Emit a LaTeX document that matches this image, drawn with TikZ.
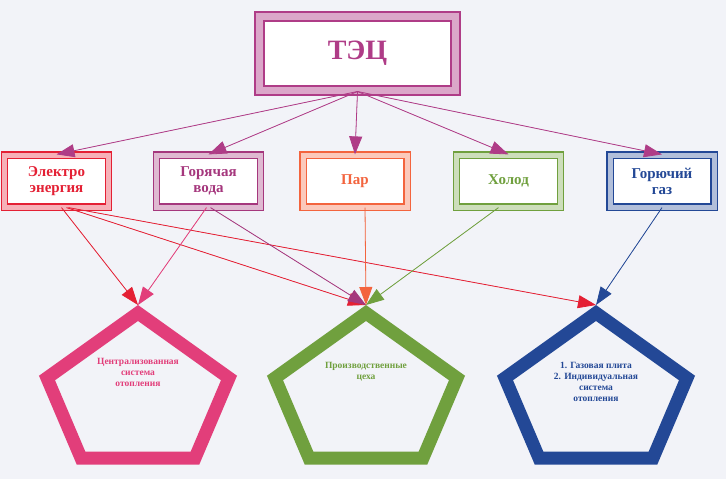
\documentclass[tikz,border=0pt]{standalone}
\usepackage{fontspec}
\setmainfont{Liberation Serif}
\usetikzlibrary{arrows.meta}
\definecolor{tec}{RGB}{175,60,135}
\definecolor{cred}{RGB}{228,32,52}
\definecolor{cpur}{RGB}{165,55,125}
\definecolor{corg}{RGB}{243,100,62}
\definecolor{cgrn}{RGB}{112,160,62}
\definecolor{cblu}{RGB}{35,72,150}
\definecolor{cpnk}{RGB}{226,62,122}
\definecolor{paper}{RGB}{242,243,248}
\tikzset{
  srcbox/.style={draw=#1, text=#1, line width=1.2pt, double=#1!35, double distance=5pt,
    fill=white, minimum width=104pt, minimum height=52pt, align=center,
    font=\bfseries\fontsize{15}{16}\selectfont, inner sep=2pt},
  feed/.style={draw=#1, line width=0.8pt, -{Triangle[length=18pt,width=13pt]}, fill=#1},
  pent/.style={draw=#1, line width=13pt, line join=miter},
  pentext/.style={text=#1, align=center, font=\bfseries\fontsize{9.5}{11}\selectfont}
}
\begin{document}
\begin{tikzpicture}[x=1pt,y=-1pt]
  \fill[paper] (0,0) rectangle (726,479);
  \useasboundingbox (0,0) rectangle (726,479);
  % top
  \node[draw=tec, text=tec, line width=2pt, double=tec!45, double distance=7pt, fill=white,
        minimum width=196pt, minimum height=74pt, font=\bfseries\fontsize{28}{30}\selectfont]
        (tec) at (357.5,53.5) {ТЭЦ};
  % sources
  \node[srcbox=cred] (el)  at (56.5,181)  {Электро\\энергия};
  \node[srcbox=cpur] (hw)  at (208.5,181) {Горячая\\вода};
  \node[srcbox=corg] (par) at (355,181)   {Пар};
  \node[srcbox=cgrn] (cld) at (508.5,181) {Холод};
  \node[srcbox=cblu] (gas) at (662,181)   {Горючий\\газ};
  \foreach \t in {el,hw,par,cld,gas}
    \draw[feed=tec] (tec.south) -- (\t.north);
  % consumers
  \foreach \n/\cx/\c in {heat/138/cpnk,shop/366/cgrn,home/596/cblu}{
    \draw[pent=\c] (\cx,313) -- (\cx+91,378) -- (\cx+57,458) -- (\cx-57,458)
      -- (\cx-91,378) -- cycle;
    \coordinate (\n) at (\cx,305);
  }
  \node[pentext=cpnk] (t1) at (138,372) {Централизованная\\система\\отопления};
  \node[pentext=cgrn] (t2) at (366,372) {Производственные\\цеха};
  \node[pentext=cblu] (t3) at (596,382) {1. Газовая плита\\2. Индивидуальная\\система\\отопления};
  % flows
  \draw[feed=cred] (el.south) ++(5,0) -- (heat);
  \draw[feed=cred] (el.south) ++(10,0) -- (shop);
  \draw[feed=cred] (el.south) ++(12,0) -- (home);
  \draw[feed=cpnk] (hw.south) ++(-2,0) -- (heat);
  \draw[feed=cpur] (hw.south) ++(2,0) -- (shop);
  \draw[feed=corg] (par.south) ++(10,0) -- (shop);
  \draw[feed=cgrn] (cld.south) ++(-10,0) -- (shop);
  \draw[feed=cblu] (gas.south) -- (home);
\end{tikzpicture}
\end{document}
